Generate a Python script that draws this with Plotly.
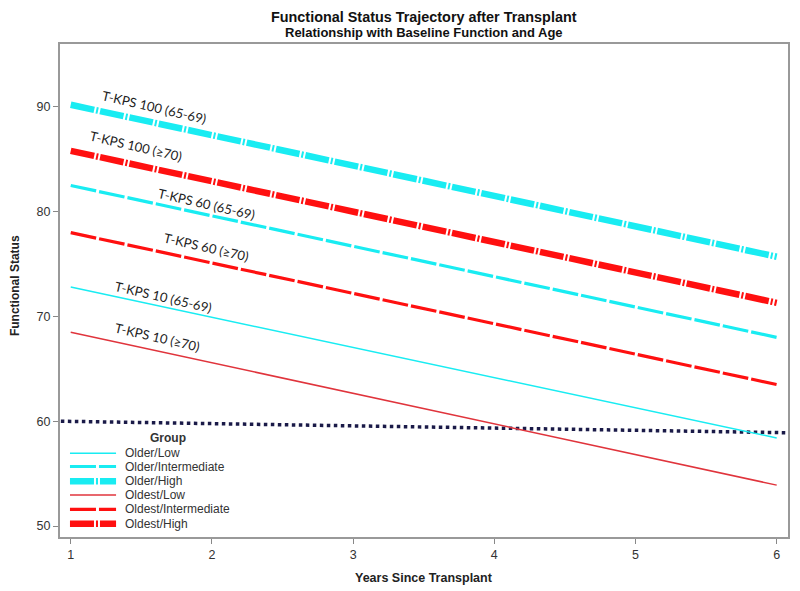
import plotly.graph_objects as go

# ---- data ----
years = [1, 6]
groups = ["Older/Low", "Older/Intermediate", "Older/High",
          "Oldest/Low", "Oldest/Intermediate", "Oldest/High"]
older_low = [72.8, 58.4]
older_intermediate = [82.5, 68.0]
older_high = [90.2, 75.7]
oldest_low = [68.5, 53.9]
oldest_intermediate = [78.0, 63.5]
oldest_high = [85.8, 71.3]
series = [older_low, older_intermediate, older_high,
          oldest_low, oldest_intermediate, oldest_high]

ref_x = [0.93, 6.08]
ref_y = [60.0, 58.9]

label_texts = ["T-KPS 100 (65-69)", "T-KPS 100 (≥70)", "T-KPS 60 (65-69)",
               "T-KPS 60 (≥70)", "T-KPS 10 (65-69)", "T-KPS 10 (≥70)"]
label_x = [1.59, 1.46, 1.965, 1.96, 1.66, 1.61]
label_y = [90.0, 86.3, 80.7, 76.6, 71.9, 68.0]

x_ticks = [1, 2, 3, 4, 5, 6]
y_ticks = [50, 60, 70, 80, 90]

# ---- styles ----
CYAN = "#19ecf2"
RED = "#ff1010"
RED_THIN = "#e0343c"
colors = [CYAN, CYAN, CYAN, RED_THIN, RED, RED]
widths = [1.5, 3.2, 6.5, 1.5, 3.2, 6.5]
dashes = ["solid", "26px,3px", "24px,2px,2px,2px",
          "solid", "26px,3px", "24px,2px,2px,2px"]

fig = go.Figure()

fig.add_trace(go.Scatter(x=ref_x, y=ref_y, mode="lines",
                         line=dict(color="#1a1a48", width=3.5, dash="3.5px,3.5px"),
                         showlegend=False, hoverinfo="skip"))

for name, vals, c, w, d in zip(groups, series, colors, widths, dashes):
    fig.add_trace(go.Scatter(x=years, y=vals, mode="lines", name=name,
                             line=dict(color=c, width=w, dash=d),
                             showlegend=False))

for t, lx, ly in zip(label_texts, label_x, label_y):
    fig.add_annotation(x=lx, y=ly, text=t, showarrow=False, textangle=13,
                       font=dict(family="Lato, Open Sans, sans-serif", size=13, color="#222"))

# ---- titles ----
fig.add_annotation(xref="paper", yref="paper", x=0.5, y=1 + 36 / 493, yanchor="top",
                   borderpad=0,
                   text="<b>Functional Status Trajectory after Transplant</b>", showarrow=False,
                   font=dict(family="Arial", size=14.4, color="#111"))
fig.add_annotation(xref="paper", yref="paper", x=0.5, y=1 + 11.5 / 493, yanchor="middle",
                   borderpad=0,
                   text="<b>Relationship with Baseline Function and Age</b>", showarrow=False,
                   font=dict(family="Arial", size=13, color="#111"))
fig.add_annotation(xref="paper", yref="paper", x=0.5, y=-41 / 493, yanchor="middle",
                   text="<b>Years Since Transplant</b>", showarrow=False,
                   font=dict(family="Arial", size=12.5, color="#222"))
fig.add_annotation(xref="paper", yref="paper", x=-45 / 728, y=0.509, xanchor="center",
                   yanchor="middle", textangle=-90,
                   text="<b>Functional Status</b>", showarrow=False,
                   font=dict(family="Arial", size=12, color="#222"))

# ---- manual legend (inside plot, bottom-left) ----
leg_x0, leg_x1, leg_tx = 0.0137, 0.077, 0.0865
leg_y = [0.170, 0.143, 0.113, 0.085, 0.056, 0.027]
fig.add_annotation(xref="paper", yref="paper", x=0.121, y=0.201, yanchor="middle",
                   text="<b>Group</b>", showarrow=False,
                   font=dict(family="Arial", size=12, color="#333"))
for name, c, w, d, yy in zip(groups, colors, widths, dashes, leg_y):
    fig.add_shape(type="line", xref="paper", yref="paper", x0=leg_x0, x1=leg_x1,
                  y0=yy, y1=yy, line=dict(color=c, width=w, dash=d))
    fig.add_annotation(xref="paper", yref="paper", x=leg_tx, y=yy, text=name,
                       xanchor="left", yanchor="middle", showarrow=False,
                       font=dict(family="Arial", size=12, color="#333"))

# page body adds an 8px offset, so the figure is 8px smaller and margins shifted
fig.update_layout(
    width=792, height=583,
    margin=dict(l=52, r=12, t=36, b=54, autoexpand=False),
    paper_bgcolor="white", plot_bgcolor="white",
    font=dict(family="Arial", color="#333"),
)

fig.update_xaxes(range=[0.924, 6.08], tickvals=x_ticks, ticks="outside", ticklen=5,
                 tickcolor="#888", showline=True, linecolor="#999", linewidth=2,
                 mirror=True, showgrid=False, zeroline=False, automargin=False,
                 tickfont=dict(size=12.5, color="#333"))
fig.update_yaxes(range=[48.95, 96.0], tickvals=y_ticks, ticks="outside", ticklen=5,
                 tickcolor="#888", showline=True, linecolor="#999", linewidth=2,
                 mirror=True, showgrid=False, zeroline=False, automargin=False,
                 tickfont=dict(size=12.5, color="#333"))

fig.write_html("out.html")
